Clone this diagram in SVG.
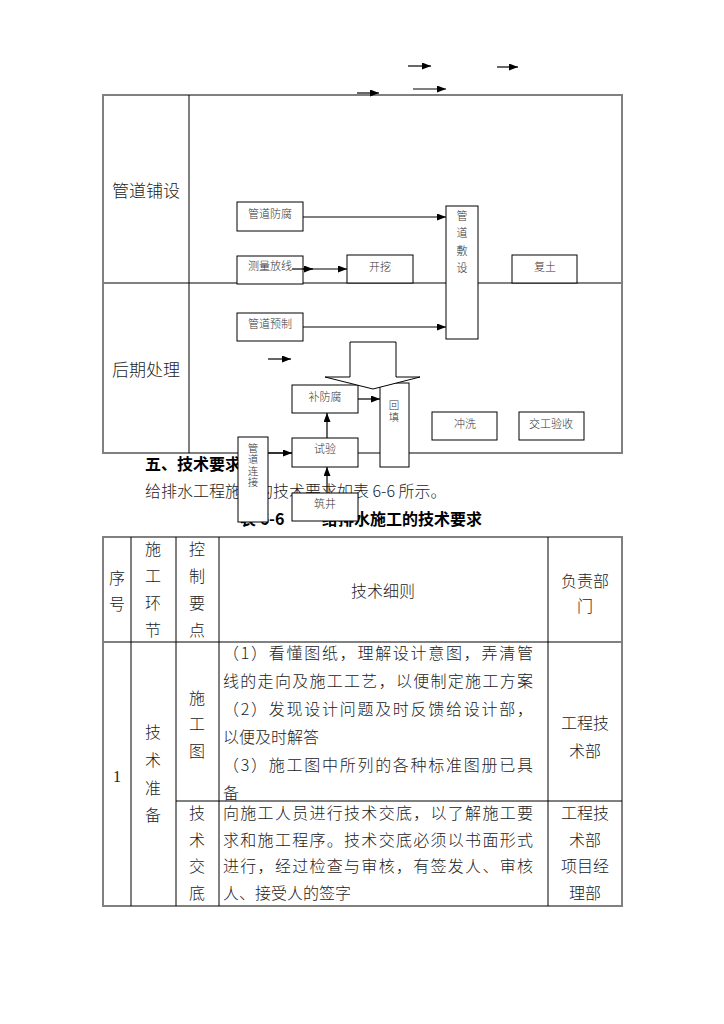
<svg xmlns="http://www.w3.org/2000/svg" width="724" height="1024" viewBox="0 0 724 1024">
<style>
.fr{fill:none;stroke:#808080;stroke-width:2}
.ln{stroke:#000;stroke-width:1;fill:none}
.bx{fill:#fff;stroke:#000;stroke-width:1}
.s{font-family:"Noto Sans CJK SC",sans-serif;font-size:11px;font-weight:300;fill:#333;text-anchor:middle;dominant-baseline:central}
.sv{font-family:"Noto Sans CJK SC",sans-serif;font-size:10.5px;font-weight:300;fill:#333;text-anchor:middle;dominant-baseline:central}
.big{font-family:"Noto Sans CJK SC",sans-serif;font-size:17px;font-weight:300;fill:#222;dominant-baseline:central}
.t{font-family:"Noto Sans CJK SC",sans-serif;font-size:16px;font-weight:300;fill:#222;dominant-baseline:central}
.tc{font-family:"Noto Sans CJK SC",sans-serif;font-size:16px;font-weight:300;fill:#222;dominant-baseline:central;text-anchor:middle}
.b{font-family:"Noto Sans CJK SC",sans-serif;font-size:16px;font-weight:bold;fill:#000;dominant-baseline:central}
.ar{stroke:#000;stroke-width:1.2;fill:none;marker-end:url(#ah)}
</style>
<defs>
<marker id="ah" viewBox="0 0 9 7" refX="9" refY="3.5" markerWidth="9" markerHeight="7" orient="auto" markerUnits="userSpaceOnUse">
<path d="M0,0 L9,3.5 L0,7 z" fill="#000"/>
</marker>
</defs>
<rect fill="#fff" x="0" y="0" width="724" height="1024"/>

<g id="frame">
<rect class="fr" x="103" y="95" width="519" height="358"/>
<line class="fr" x1="103" y1="283" x2="622" y2="283"/>
<line class="ln" x1="189" y1="95" x2="189" y2="453"/>
<text class="big" x="112" y="189">管道铺设</text>
<text class="big" x="112" y="368">后期处理</text>
</g>

<g id="texts">
<text class="b" x="145" y="463">五、技术要求</text>
<text class="t" x="145" y="490">给排水工程施工的技术要求如表 6-6 所示。</text>
<text class="b" x="240" y="518">表 6-6</text>
<text class="b" x="322" y="518">给排水施工的技术要求</text>
</g>

<g id="connectors">
<line class="ar" x1="408" y1="66" x2="431" y2="66"/>
<line class="ar" x1="497" y1="67" x2="518" y2="67"/>
<line class="ar" x1="357" y1="93" x2="379" y2="93"/>
<line class="ar" x1="413" y1="89" x2="446" y2="89"/>
<line class="ar" x1="303" y1="217" x2="446" y2="217"/>
<line class="ar" x1="303" y1="327" x2="446" y2="327"/>
<line class="ar" x1="268" y1="359" x2="291" y2="359"/>
<line class="ar" x1="358" y1="399" x2="380" y2="399"/>
<line class="ar" x1="327" y1="438" x2="327" y2="413"/>
<line class="ar" x1="327" y1="493" x2="327" y2="467"/>
<line class="ar" x1="268" y1="453" x2="292" y2="453"/>
</g>

<g id="n-fangfu"><rect class="bx" x="237" y="202" width="66" height="29"/><text class="s" x="270" y="213">管道防腐</text></g>
<g id="n-celiang"><rect class="bx" x="237" y="256" width="66" height="28"/><text class="s" x="270" y="265">测量放线</text></g>
<g id="n-kaiwa"><rect class="bx" x="347" y="255" width="66" height="28"/><text class="s" x="380" y="266">开挖</text></g>
<g id="n-fushe"><rect class="bx" x="446" y="206" width="32" height="133"/>
<text class="s" x="462" y="215">管</text><text class="s" x="462" y="232">道</text><text class="s" x="462" y="250">敷</text><text class="s" x="462" y="267">设</text></g>
<g id="n-futu"><rect class="bx" x="512" y="255" width="65" height="28"/><text class="s" x="545" y="266">复土</text></g>
<g id="n-yuzhi"><rect class="bx" x="237" y="313" width="66" height="28"/><text class="s" x="270" y="323">管道预制</text></g>

<g id="connectors2">
<line class="ar" x1="292" y1="269" x2="313" y2="269"/>
<line class="ar" x1="303" y1="269" x2="347" y2="269"/>
</g>

<g id="n-bufangfu"><rect class="bx" x="292" y="385" width="66" height="28"/><text class="s" x="325" y="396">补防腐</text></g>
<g id="n-huitian"><rect class="bx" x="380" y="383" width="29" height="84"/><text class="sv" x="394" y="404">回</text><text class="sv" x="394" y="416">填</text></g>
<g id="n-bigarrow"><polygon class="bx" points="350,342 396,342 396,377 420,377 373,389 325,377 350,377"/></g>
<g id="n-shiyan"><rect class="bx" x="292" y="438" width="66" height="29"/><text class="s" x="325" y="448">试验</text></g>
<g id="n-lianjie"><rect class="bx" x="238" y="437" width="30" height="85"/>
<text class="sv" x="253" y="447">管</text><text class="sv" x="253" y="458.5">道</text><text class="sv" x="253" y="470">连</text><text class="sv" x="253" y="481.5">接</text></g>
<g id="n-zhujing"><rect class="bx" x="292" y="493" width="66" height="28"/><text class="s" x="325" y="503">筑井</text></g>
<g id="n-chongxi"><rect class="bx" x="432" y="412" width="65" height="28"/><text class="s" x="465" y="423">冲洗</text></g>
<g id="n-yanshou"><rect class="bx" x="519" y="412" width="65" height="28"/><text class="s" x="551" y="423">交工验收</text></g>

<g id="table">
<rect class="fr" x="103" y="537" width="519" height="369"/>
<line class="fr" x1="103" y1="642" x2="622" y2="642"/>
<line class="ln" x1="131" y1="537" x2="131" y2="906"/>
<line class="ln" x1="176" y1="537" x2="176" y2="906"/>
<line class="ln" x1="219" y1="537" x2="219" y2="906"/>
<line class="ln" x1="548" y1="537" x2="548" y2="906"/>
<line class="ln" x1="176" y1="801" x2="622" y2="801"/>

<text class="tc" x="117" y="577">序</text><text class="tc" x="117" y="603">号</text>
<text class="tc" x="153" y="548">施</text><text class="tc" x="153" y="575">工</text><text class="tc" x="153" y="602">环</text><text class="tc" x="153" y="629">节</text>
<text class="tc" x="197" y="548">控</text><text class="tc" x="197" y="575">制</text><text class="tc" x="197" y="602">要</text><text class="tc" x="197" y="629">点</text>
<text class="tc" x="383" y="590">技术细则</text>
<text class="tc" x="585" y="580">负责部</text><text class="tc" x="585" y="605">门</text>

<text x="117" y="776" style="font-family:'Liberation Serif',serif;font-size:16px;fill:#222;text-anchor:middle;dominant-baseline:central">1</text>
<text class="tc" x="153" y="731">技</text><text class="tc" x="153" y="759">术</text><text class="tc" x="153" y="787">准</text><text class="tc" x="153" y="814">备</text>
<text class="tc" x="197" y="697">施</text><text class="tc" x="197" y="723">工</text><text class="tc" x="197" y="750">图</text>
<text class="t" x="223" y="652" textLength="310" lengthAdjust="spacing">（1）看懂图纸，理解设计意图，弄清管</text>
<text class="t" x="223" y="680" textLength="310" lengthAdjust="spacing">线的走向及施工工艺，以便制定施工方案</text>
<text class="t" x="223" y="708" textLength="310" lengthAdjust="spacing">（2）发现设计问题及时反馈给设计部，</text>
<text class="t" x="223" y="736">以便及时解答</text>
<text class="t" x="223" y="764" textLength="310" lengthAdjust="spacing">（3）施工图中所列的各种标准图册已具</text>
<text class="t" x="223" y="792">备</text>
<text class="tc" x="585" y="722">工程技</text><text class="tc" x="585" y="750">术部</text>

<text class="tc" x="197" y="812">技</text><text class="tc" x="197" y="839">术</text><text class="tc" x="197" y="865">交</text><text class="tc" x="197" y="892">底</text>
<text class="t" x="223" y="812" textLength="310" lengthAdjust="spacing">向施工人员进行技术交底，以了解施工要</text>
<text class="t" x="223" y="839" textLength="310" lengthAdjust="spacing">求和施工程序。技术交底必须以书面形式</text>
<text class="t" x="223" y="865" textLength="310" lengthAdjust="spacing">进行，经过检查与审核，有签发人、审核</text>
<text class="t" x="223" y="892">人、接受人的签字</text>
<text class="tc" x="585" y="812">工程技</text><text class="tc" x="585" y="839">术部</text><text class="tc" x="585" y="865">项目经</text><text class="tc" x="585" y="892">理部</text>
</g>
</svg>
